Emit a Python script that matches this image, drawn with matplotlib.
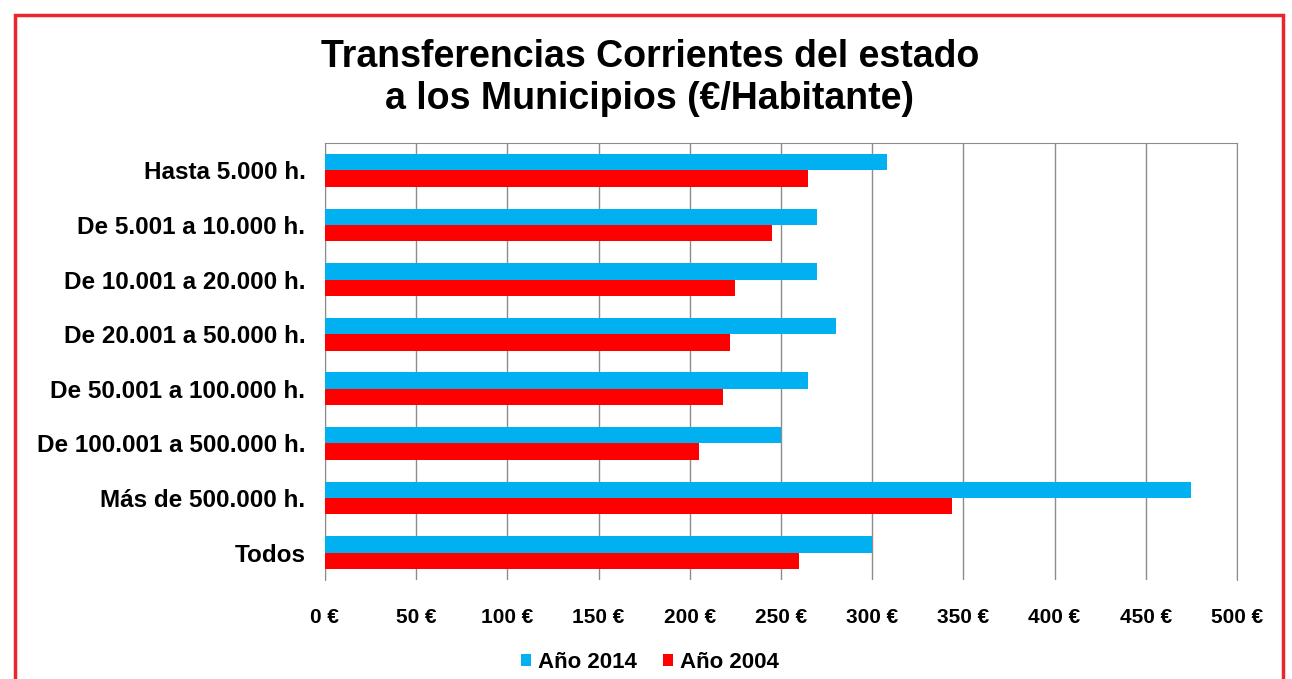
import numpy as np
import matplotlib.pyplot as plt
from matplotlib.patches import Rectangle

plt.rcParams['font.family'] = ['Liberation Sans', 'DejaVu Sans']
plt.rcParams['font.weight'] = 'bold'

categories = ['Hasta 5.000 h.', 'De 5.001 a 10.000 h.', 'De 10.001 a 20.000 h.',
              'De 20.001 a 50.000 h.', 'De 50.001 a 100.000 h.',
              'De 100.001 a 500.000 h.', 'Más de 500.000 h.', 'Todos']
y2014 = [308, 270, 270, 280, 265, 250, 475, 300]
y2004 = [265, 245, 225, 222, 218, 205, 344, 260]
xticks = [0, 50, 100, 150, 200, 250, 300, 350, 400, 450, 500]

fig = plt.figure(figsize=(12.92, 6.79), dpi=100)
ax = fig.add_axes([0.2515, 0.1458, 0.7059, 0.6436])

pos = np.arange(len(categories))
h = 0.3
ax.barh(pos - h / 2, y2014, height=h, color='#00B0F0', label='Año 2014', zorder=3)
ax.barh(pos + h / 2, y2004, height=h, color='#FF0000', label='Año 2004', zorder=3)

ax.set_ylim(len(categories) - 0.5, -0.5)
ax.set_xlim(0, 500)
ax.set_yticks(pos)
ax.set_yticklabels(categories, fontsize=17.5, fontweight='bold')
ax.set_xticks(xticks)
ax.set_xticklabels([f'{v} €' for v in xticks], fontsize=15, fontweight='bold')
ax.tick_params(axis='y', length=0, pad=14)
ax.tick_params(axis='x', length=0, pad=20)

ax.grid(axis='x', color='#8C8C8C', linewidth=1, zorder=0)
ax.spines['bottom'].set_visible(False)
for s in ['left', 'top', 'right']:
    ax.spines[s].set_color('#8C8C8C')

fig.text(0.503, 0.885, 'Transferencias Corrientes del estado\na los Municipios (€/Habitante)',
         ha='center', va='center', fontsize=27, fontweight='bold', linespacing=1.2)

fig.legend(loc='center', bbox_to_anchor=(0.503, 0.025), ncol=2, frameon=False,
           handlelength=0.45, handleheight=0.45, handletextpad=0.3,
           columnspacing=1.2, prop={'weight': 'bold', 'size': 16})

fig.patches.append(Rectangle((15 / 1292, -0.05), 1268 / 1292, 1 - 15 / 679 + 0.05,
                             transform=fig.transFigure, fill=False,
                             edgecolor='#E8262B', linewidth=2.5))

fig.savefig('out.png', dpi=100)
